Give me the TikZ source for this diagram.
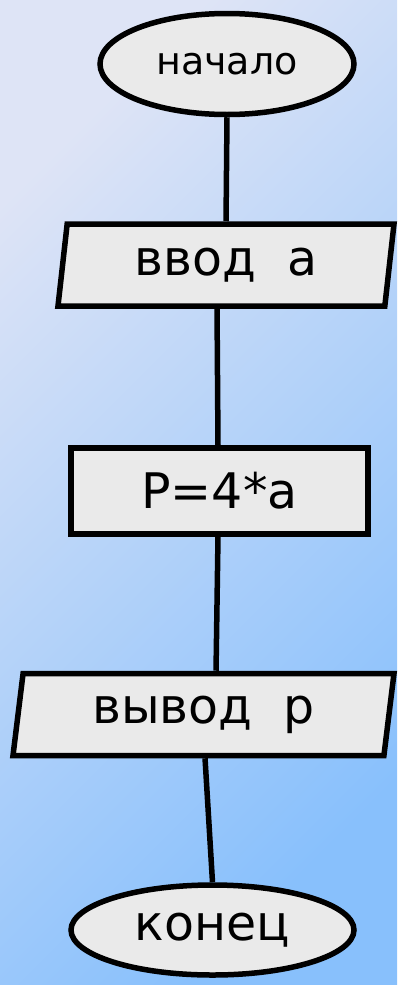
\documentclass[tikz,border=0pt]{standalone}
\usepackage{fontspec}
\setmainfont{DejaVu Sans}
\usetikzlibrary{shapes.geometric}
\definecolor{bgtop}{RGB}{222,228,246}
\definecolor{bgbottom}{RGB}{136,192,252}
\definecolor{boxfill}{RGB}{234,234,234}
\begin{document}
\begin{tikzpicture}[x=1pt, y=-1pt, line width=5.5pt,
        terminal/.style={draw, ellipse, fill=boxfill, inner sep=0pt},
        io/.style={draw, trapezium, trapezium left angle=75,
                   trapezium right angle=105, trapezium stretches body,
                   fill=boxfill, inner sep=0pt, minimum height=82pt,
                   font=\fontsize{49}{58}\selectfont},
        process/.style={draw, rectangle, fill=boxfill, inner sep=0pt,
                        font=\fontsize{49}{58}\selectfont}]
        \shade[top color=bgtop, bottom color=bgbottom, shading angle=45]
            (0,0) rectangle (397,985);
        \useasboundingbox (0,0) rectangle (397,985);
        \node[terminal, minimum width=254pt, minimum height=101pt,
              font=\fontsize{38}{45}\selectfont] (start) at (227,64) {начало};
        \node[io, minimum width=336pt] (inp) at (226,265) {ввод\ \ а};
        \node[process, minimum width=297pt, minimum height=86pt] (calc) at (219.5,491) {P=4*a};
        \node[io, minimum width=381pt] (outp) at (203.5,714.5) {вывод\ \ р};
        \node[terminal, minimum width=283pt, minimum height=90pt,
              font=\fontsize{49}{58}\selectfont] (stop) at (212.5,930) {конец};
        \draw (start.south) -- (inp.north);
        \draw ([xshift=-9pt]inp.south) -- ([xshift=-1.5pt]calc.north);
        \draw ([xshift=-1.5pt]calc.south) -- ([xshift=12.5pt]outp.north);
        \draw ([xshift=1.5pt]outp.south) -- (stop.north);
    \end{tikzpicture}
\end{document}
